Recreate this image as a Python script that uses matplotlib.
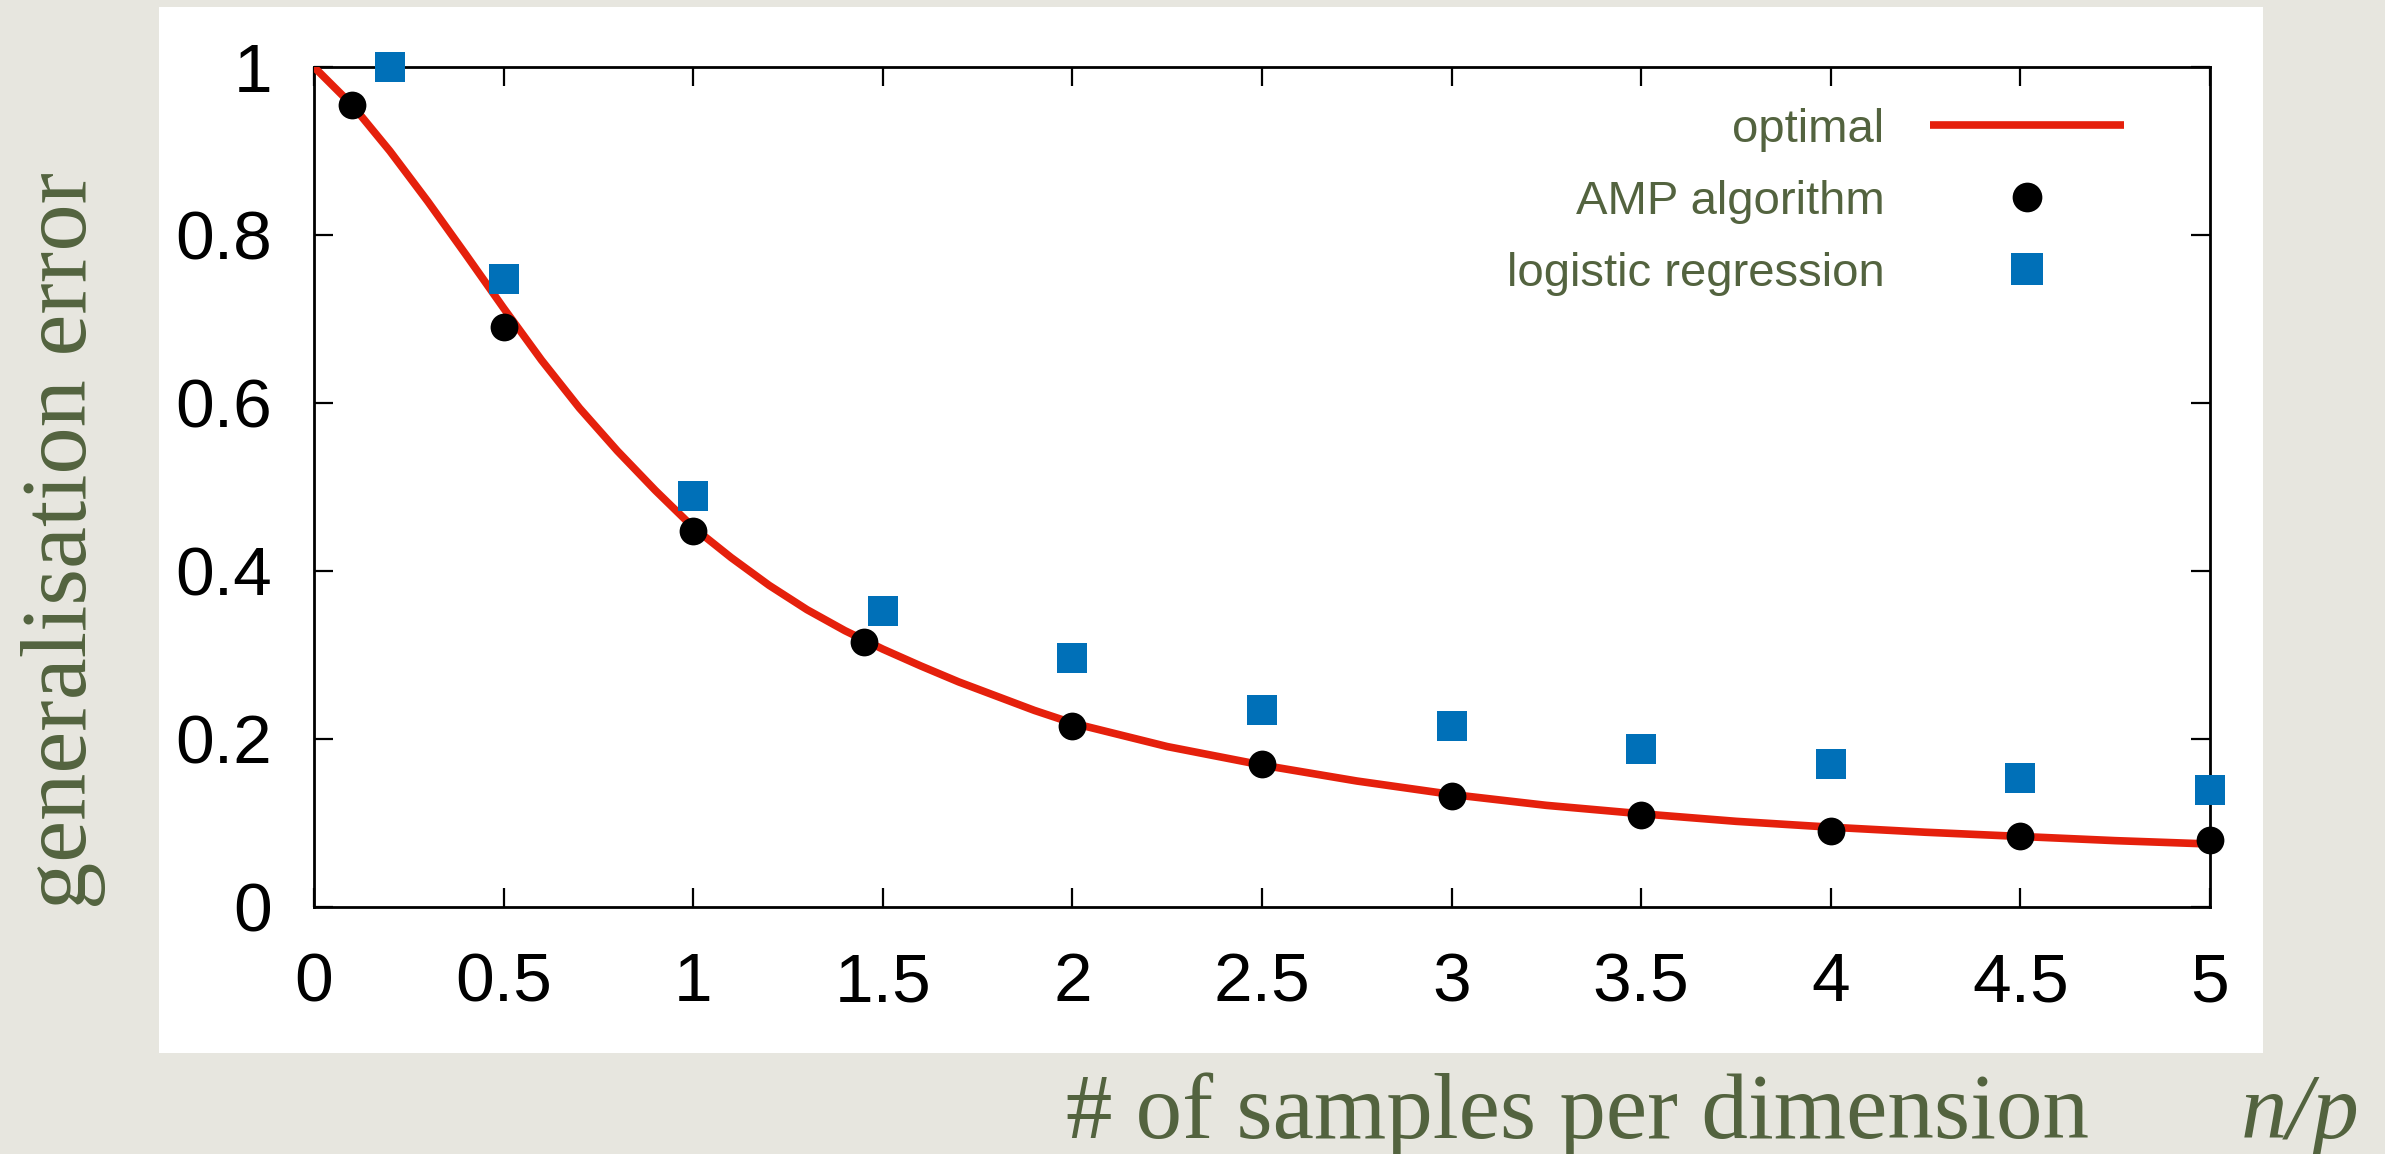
import matplotlib
matplotlib.use("Agg")
import matplotlib.pyplot as plt
from matplotlib.patches import Rectangle

# ---------------- data ----------------
opt_x = [0.0, 0.1, 0.2, 0.3, 0.4, 0.5, 0.6, 0.7, 0.8, 0.9, 1.0,
         1.1, 1.2, 1.3, 1.4, 1.5, 1.6, 1.7, 1.8, 1.9, 2.0,
         2.25, 2.5, 2.75, 3.0, 3.25, 3.5, 3.75, 4.0, 4.25, 4.5, 4.75, 5.0]
opt_y = [1.0, 0.955, 0.900, 0.840, 0.777, 0.713, 0.651, 0.594, 0.543, 0.496, 0.452,
         0.416, 0.383, 0.354, 0.329, 0.307, 0.287, 0.268, 0.251, 0.234, 0.219,
         0.191, 0.169, 0.150, 0.134, 0.121, 0.111, 0.102, 0.095, 0.089, 0.084,
         0.079, 0.075]

amp_x = [0.1, 0.5, 1.0, 1.45, 2.0, 2.5, 3.0, 3.5, 4.0, 4.5, 5.0]
amp_y = [0.955, 0.690, 0.448, 0.316, 0.216, 0.170, 0.132, 0.110, 0.090, 0.085, 0.080]

log_x = [0.2, 0.5, 1.0, 1.5, 2.0, 2.5, 3.0, 3.5, 4.0, 4.5, 5.0]
log_y = [1.0, 0.748, 0.489, 0.352, 0.296, 0.235, 0.215, 0.188, 0.170, 0.154, 0.139]

x_ticks = [0, 0.5, 1, 1.5, 2, 2.5, 3, 3.5, 4, 4.5, 5]
x_ticklabels = ["0", "0.5", "1", "1.5", "2", "2.5", "3", "3.5", "4", "4.5", "5"]
y_ticks = [0, 0.2, 0.4, 0.6, 0.8, 1]
y_ticklabels = ["0", "0.2", "0.4", "0.6", "0.8", "1"]

labels = ["optimal", "AMP algorithm", "logistic regression"]
x_label = "# of samples per dimension"
x_label_math = "n/p"
y_label = "generalisation error"

# ---------------- styling ----------------
W, H = 2385, 1154
DPI = 100
BG = "#e7e6df"
OLIVE = "#53633f"
RED = "#e5200c"
BLUE = "#0070b8"


def fx(px):
    return px / W


def fy(py):
    return 1 - py / H


fig = plt.figure(figsize=(W / DPI, H / DPI), dpi=DPI, facecolor=BG)

# white panel behind the plot
fig.patches.append(Rectangle((fx(159), fy(1053)), fx(2263) - fx(159),
                             fy(7) - fy(1053), transform=fig.transFigure,
                             facecolor="white", edgecolor="none", zorder=-10))

ax_l, ax_r, ax_t, ax_b = 314, 2210, 67, 907
ax = fig.add_axes([fx(ax_l), fy(ax_b), fx(ax_r) - fx(ax_l), fy(ax_t) - fy(ax_b)])
ax.set_zorder(1)
ax.set_facecolor("white")

line_opt, = ax.plot(opt_x, opt_y, color=RED, lw=5.5, zorder=3, label=labels[0],
                    solid_capstyle="butt", solid_joinstyle="round")
line_amp, = ax.plot(amp_x, amp_y, ls="none", marker="o", ms=20, mew=0,
                    color="black", zorder=5, clip_on=False, label=labels[1])
line_log, = ax.plot(log_x, log_y, ls="none", marker="s", ms=22, mew=0,
                    color=BLUE, zorder=4, clip_on=False, label=labels[2])

ax.set_xlim(0, 5)
ax.set_ylim(0, 1)
ax.set_xticks(x_ticks)
ax.set_xticklabels(x_ticklabels)
ax.set_yticks(y_ticks)
ax.set_yticklabels(y_ticklabels)

for sp in ax.spines.values():
    sp.set_linewidth(2.0)
    sp.set_color("black")

ax.tick_params(axis="both", which="major", direction="in", length=14,
               width=1.6, top=True, right=True, colors="black",
               labelsize=50)
ax.tick_params(axis="x", pad=32)
ax.tick_params(axis="y", pad=30)
for t in ax.get_xticklabels() + ax.get_yticklabels():
    t.set_fontfamily(["Liberation Sans", "DejaVu Sans"])

# legend
leg = ax.legend(handles=[line_opt, line_amp, line_log], loc="upper right",
                bbox_to_anchor=(fx(2124), fy(108)),
                bbox_transform=fig.transFigure, frameon=False,
                markerfirst=False, handlelength=4.1, markerscale=1.07,
                handletextpad=0.97, labelspacing=0.59, borderpad=0,
                borderaxespad=0, labelcolor=OLIVE,
                prop={"family": ["Liberation Sans", "DejaVu Sans"], "size": 34})
for col in leg._legend_handle_box.get_children():
    col.align = "right"

# axis labels (placed as figure text)
fig.text(fx(1066), fy(1138), x_label, ha="left", va="baseline",
         fontsize=67, color=OLIVE,
         family=["Liberation Serif", "DejaVu Serif"])
fig.text(fx(2241), fy(1138), x_label_math, ha="left", va="baseline",
         fontsize=67, color=OLIVE, style="italic",
         family=["Liberation Serif", "DejaVu Serif"])
fig.text(fx(86), fy(540), y_label, ha="center", va="baseline", rotation=90,
         rotation_mode="anchor", fontsize=68, color=OLIVE,
         family=["Liberation Serif", "DejaVu Serif"])

fig.savefig("out.png", dpi=DPI, facecolor=BG)
